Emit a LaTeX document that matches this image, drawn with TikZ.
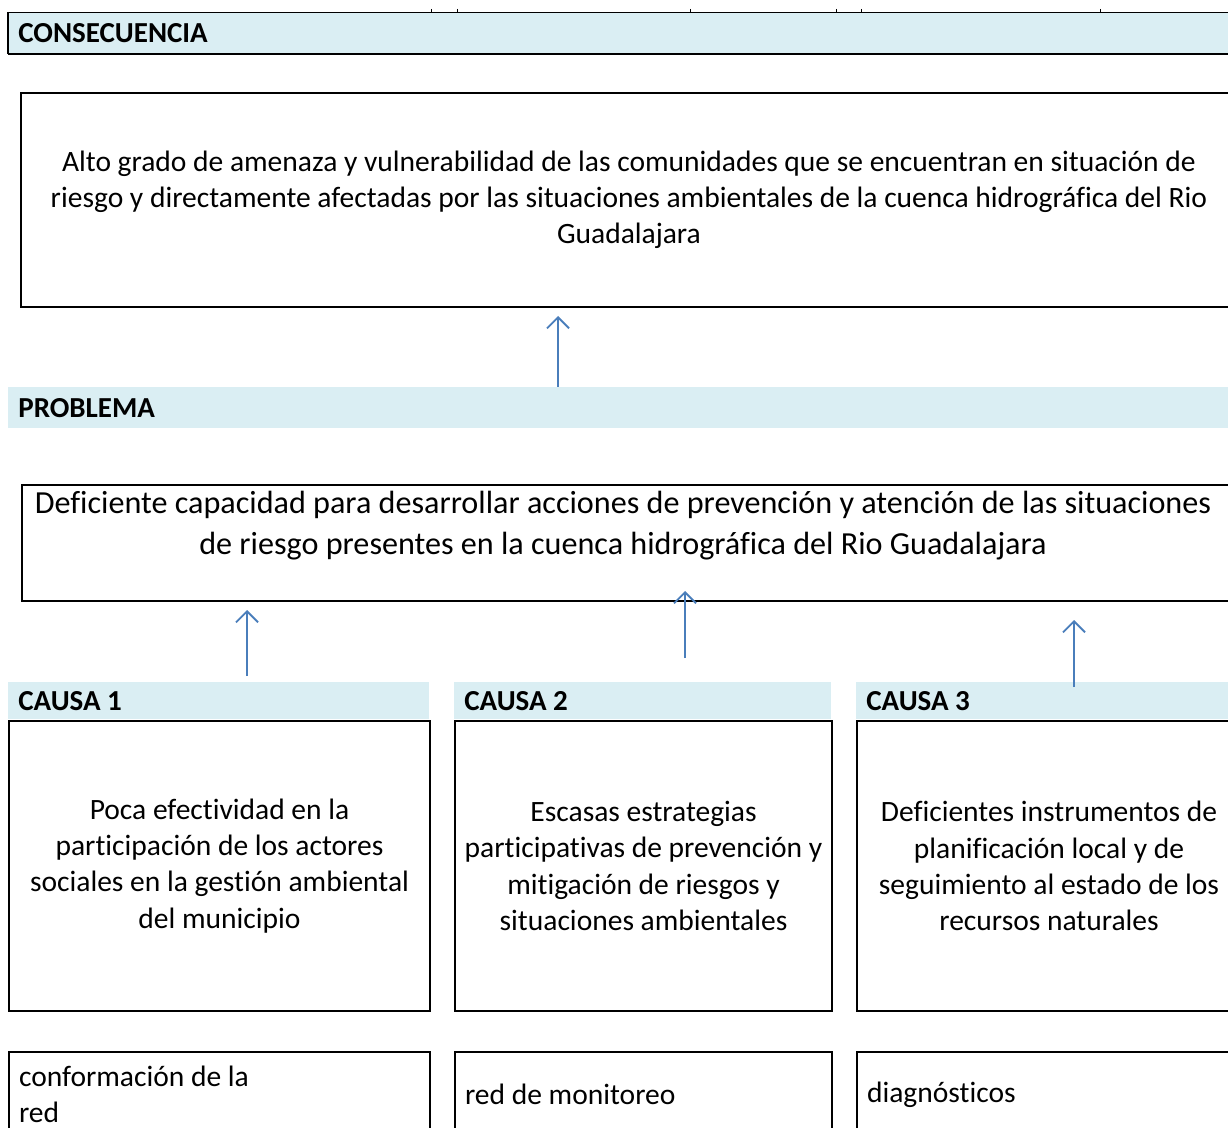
\documentclass[tikz,border=0pt]{standalone}
\usepackage{fontspec}
\setmainfont{Carlito}[Ligatures=CommonOff]
\usepackage{xcolor}
\usetikzlibrary{arrows.meta}

\definecolor{bandblue}{HTML}{DAEEF3}
\definecolor{arrowblue}{HTML}{4A7EBB}

\begin{document}
\begin{tikzpicture}[x=0.02cm, y=-0.02cm,
    band/.style={rectangle, fill=bandblue, anchor=north west, inner xsep=0.2cm, inner ysep=0pt, align=flush left, font=\bfseries\fontsize{16.5}{20}\selectfont},
    box/.style={rectangle, draw, line width=1.2pt, anchor=north west, align=flush center, inner sep=0pt, font=\fontsize{16.8}{20.6}\selectfont},
    lowbox/.style={box, align=flush left, inner xsep=0.2cm, minimum height=1.7cm},
    arrow/.style={-{Straight Barb[length=0.22cm, width=0.44cm]}, draw=arrowblue, line width=1.1pt}
]
    \useasboundingbox (0,0) rectangle (1228,1128);
    \clip (0,0) rectangle (1228,1128);

    % consecuencia
    \node[band, text width=24.24cm, minimum height=0.82cm] (conshead) at (8,12) {CONSECUENCIA};
    \draw[line width=0.5pt] (conshead.north west) -- (conshead.north east);
    \draw[line width=0.8pt] (conshead.north west) -- (conshead.south west);
    \draw[line width=1.2pt] (conshead.south west) -- (conshead.south east);
    \foreach \x in {431,457,690,836,861,1100}
        \draw[line width=0.3pt] (\x,9) -- (\x,12);
    \node[box, minimum width=24.32cm, minimum height=4.28cm] (consbox) at (20,92) {Alto grado de amenaza y vulnerabilidad de las comunidades que se encuentran en situación de\\riesgo y directamente afectadas por las situaciones ambientales de la cuenca hidrográfica del Rio\\Guadalajara};

    % problema
    \node[band, text width=24.24cm, minimum height=0.82cm] (probhead) at (8,387) {PROBLEMA};
    \node[box, minimum width=24.3cm, minimum height=2.32cm] (probbox) at (21,484) {};
    \node[anchor=north, align=flush center, inner sep=0pt, font=\fontsize{18.3}{23.3}\selectfont] (probtext) at (623,491) {Deficiente capacidad para desarrollar acciones de prevención y atención de las situaciones\\de riesgo presentes en la cuenca hidrográfica del Rio Guadalajara};

    % causas
    \node[band, text width=8.02cm, minimum height=0.74cm] (head1) at (8,682) {CAUSA 1};
    \node[band, text width=7.14cm, minimum height=0.74cm] (head2) at (454,682) {CAUSA 2};
    \node[band, text width=7.28cm, minimum height=0.74cm] (head3) at (856,682) {CAUSA 3};

    \node[box, minimum width=8.42cm, minimum height=5.8cm] (causa1) at (8,720) {Poca efectividad en la\\participación de los actores\\sociales en la gestión ambiental\\del municipio};
    \node[box, minimum width=7.54cm, minimum height=5.8cm] (causa2) at (454,720) {Escasas estrategias\\participativas de prevención y\\mitigación de riesgos y\\situaciones ambientales};
    \node[box, minimum width=7.68cm, minimum height=5.8cm] (causa3) at (856,720) {Deficientes instrumentos de\\planificación local y de\\seguimiento al estado de los\\recursos naturales};

    \node[lowbox, text width=8.02cm] (low1) at (8,1051) {conformación de la\\red};
    \node[lowbox, text width=7.14cm] (low2) at (454,1051) {red de monitoreo};
    \node[lowbox, text width=7.28cm] (low3) at (856,1051) {diagnósticos};

    % flechas
    \coordinate (tip0) at (558,316);
    \coordinate (tail1) at (247,676);
    \coordinate (tip1) at (247,610);
    \coordinate (tail2) at (685,658);
    \coordinate (tip2) at (685,591);
    \coordinate (tail3) at (1074,687);
    \coordinate (tip3) at (1074,620);

    \draw[arrow] (tip0 |- probhead.north) -- (tip0);
    \draw[arrow] (tail1) -- (tip1);
    \draw[arrow] (tail2) -- (tip2);
    \draw[arrow] (tail3) -- (tip3);
\end{tikzpicture}
\end{document}
